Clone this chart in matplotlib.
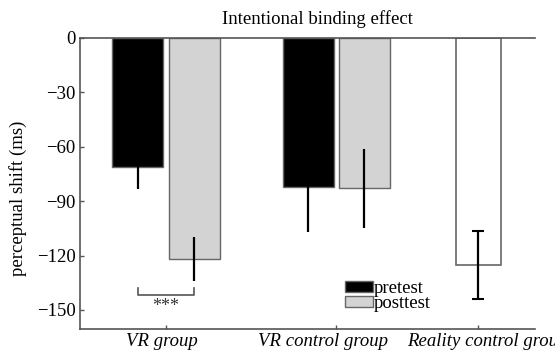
import matplotlib.pyplot as plt
import numpy as np
import matplotlib.transforms as mtransforms
from matplotlib.patches import Patch

plt.rcParams['font.family'] = ['Liberation Serif', 'DejaVu Serif']

# данные (мс)
groups = ['VR group', 'VR control group', 'Reality control group']
pre_mean = [-71.0, -82.5]
pre_err = [12.4, 24.7]
post_mean = [-122.0, -83.0]
post_err = [12.0, 21.6]
real_mean = [-125.3]
real_err = [18.8]
yticks = [0, -30, -60, -90, -120, -150]

# положения групп по оси x
centers = np.array([0.0, 1.0, 1.835])
w = 0.3
off = 0.165

fig = plt.figure(figsize=(5.55, 3.56), dpi=100)
ax = fig.add_axes([0.1441, 0.0758, 0.8199, 0.8182])

edge = '#666666'
ax.bar(centers[:2] - off, pre_mean, w, color='black', edgecolor=edge, linewidth=1, zorder=2)
ax.bar(centers[:2] + off, post_mean, w, color='#d3d3d3', edgecolor=edge, linewidth=1, zorder=2)
ax.bar(centers[2:], real_mean, 0.265, color='white', edgecolor=edge, linewidth=1.2, zorder=2)

ax.errorbar(centers[:2] - off, pre_mean, yerr=pre_err, fmt='none', ecolor='black', elinewidth=1.6, capsize=0, zorder=3)
ax.errorbar(centers[:2] + off, post_mean, yerr=post_err, fmt='none', ecolor='black', elinewidth=1.6, capsize=0, zorder=3)
ax.errorbar(centers[2:], real_mean, yerr=real_err, fmt='none', ecolor='black', elinewidth=1.6, capsize=4, capthick=1.5, zorder=3)

# значимость
x1 = centers[0] - off
x2 = centers[0] + off
ax.plot([x1, x1, x2, x2], [-138, -142, -142, -138], color='#555555', linewidth=1.2, zorder=3)
ax.text((x1 + x2) / 2, -143.5, '***', ha='center', va='top', fontsize=13, color='#333333')

ax.set_xlim(-0.506, 2.17)
ax.set_ylim(-160.5, 0)
ax.set_xticks(centers)
ax.set_xticklabels(groups, fontstyle='italic', fontsize=13.5)
ax.set_yticks(yticks)
ax.set_yticklabels(['0'] + ['\u2212%d' % abs(t) for t in yticks[1:]], fontsize=13.5)
ax.tick_params(direction='in', length=3, width=1, color='#555555', pad=3)

# подписи групп в оригинале немного сдвинуты
shifts = [-4.5, -13, 9]
for lab, dx in zip(ax.get_xticklabels(), shifts):
    lab.set_transform(lab.get_transform() + mtransforms.ScaledTranslation(dx / 100, 0, fig.dpi_scale_trans))

for s in ['left', 'bottom', 'top']:
    ax.spines[s].set_color('#555555')
    ax.spines[s].set_linewidth(1.2)
    ax.spines[s].set_zorder(4)
ax.spines['right'].set_visible(False)

ax.set_ylabel('perceptual shift (ms)', fontsize=13.5)
ax.yaxis.set_label_coords(-0.116, 0.45)
ax.set_title('Intentional binding effect', fontsize=13.5, x=0.521, pad=10)

handles = [Patch(facecolor='black', edgecolor=edge), Patch(facecolor='#d3d3d3', edgecolor=edge)]
ax.legend(handles, ['pretest', 'posttest'], loc='upper left', bbox_to_anchor=(0.582, 0.168),
          frameon=False, fontsize=13.5, handlelength=1.5, handleheight=0.55,
          handletextpad=0.05, labelspacing=-0.1, borderpad=0, borderaxespad=0)

plt.savefig('out.png', dpi=100)
